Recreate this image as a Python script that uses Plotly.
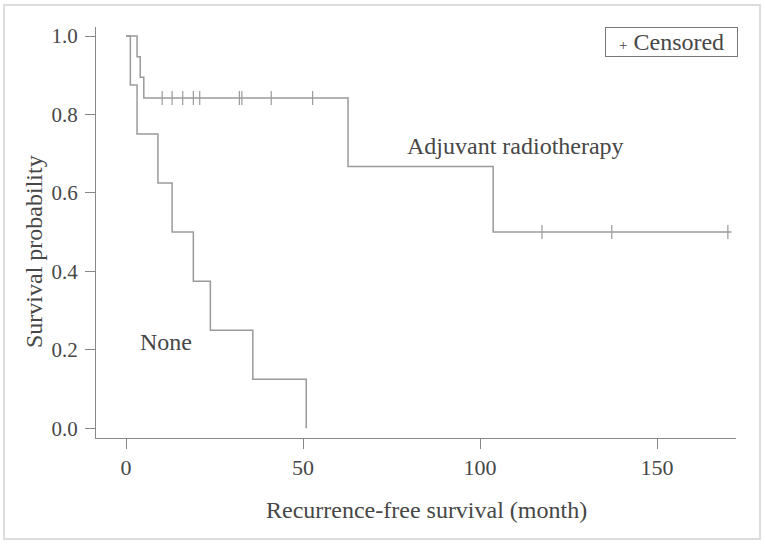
import plotly.graph_objects as go

# Adjuvant radiotherapy: step curve (event times and survival)
adj_time = [0, 3.1, 4.0, 5.0, 62.7, 103.7, 171]
adj_surv = [1.0, 0.947, 0.895, 0.842, 0.667, 0.500, 0.500]
adj_cens_time = [10.2, 13.0, 16.0, 19.0, 20.8, 32.0, 32.7, 41.0, 52.7, 117.5, 137.2, 170.0]
adj_cens_surv = [0.842] * 9 + [0.500] * 3

# None group
none_time = [0, 1.2, 3.1, 9.0, 13.0, 19.0, 23.8, 35.8, 50.9]
none_surv = [1.0, 0.875, 0.75, 0.625, 0.5, 0.375, 0.25, 0.125, 0.0]

x_ticks = [0, 50, 100, 150]
y_ticks = [0.0, 0.2, 0.4, 0.6, 0.8, 1.0]

LINE = "#9a9a9a"
TXT = "#474747"
FONT = "Liberation Serif"

L, R, T, B = 96, 29, 27, 106
PW, PH = 765 - L - R, 544 - T - B


def px(xp):
    return (xp - L) / PW


def py(yp):
    return (544 - B - yp) / PH


fig = go.Figure()
fig.add_trace(go.Scatter(x=adj_time, y=adj_surv, mode="lines", line=dict(shape="hv", color=LINE, width=1.5),
                         showlegend=False, hoverinfo="skip"))
fig.add_trace(go.Scatter(x=none_time, y=none_surv, mode="lines", line=dict(shape="hv", color=LINE, width=1.5),
                         showlegend=False, hoverinfo="skip"))
fig.add_trace(go.Scatter(x=adj_cens_time, y=adj_cens_surv, mode="markers", name="Censored",
                         marker=dict(symbol="line-ns", size=10, line=dict(color=LINE, width=1.2)),
                         showlegend=False))

fig.add_annotation(x=110, y=0.72, text="Adjuvant radiotherapy", showarrow=False,
                   font=dict(family=FONT, size=24, color=TXT))
fig.add_annotation(x=11.2, y=0.22, text="None", showarrow=False,
                   font=dict(family=FONT, size=24, color=TXT))

# legend box
fig.add_annotation(xref="paper", yref="paper", x=px(738), y=py(27), xanchor="right", yanchor="top",
                   text="&nbsp;&nbsp;<span style='font-size:15px'>+</span>&nbsp;Censored&nbsp;&nbsp;",
                   showarrow=False,
                   font=dict(family=FONT, size=24, color=TXT), bordercolor="#777", borderwidth=1,
                   borderpad=1, bgcolor="white")

# axis titles
fig.add_annotation(xref="paper", yref="paper", x=px(426), y=py(510), xanchor="center", yanchor="middle",
                   text="Recurrence-free survival (month)",
                   showarrow=False, font=dict(family=FONT, size=24, color=TXT))
fig.add_annotation(xref="paper", yref="paper", x=px(34), y=py(252), xanchor="center", yanchor="middle",
                   text="Survival probability",
                   textangle=-90, showarrow=False, font=dict(family=FONT, size=24, color=TXT))

# outer light border
fig.add_shape(type="rect", xref="paper", yref="paper",
              x0=px(4), x1=px(760), y0=py(539), y1=py(5),
              line=dict(color="#dddddd", width=2), fillcolor="rgba(0,0,0,0)")

fig.update_layout(
    width=765, height=544,
    margin=dict(l=L, r=R, t=T, b=B),
    paper_bgcolor="white", plot_bgcolor="white",
    font=dict(family=FONT, color=TXT, size=21),
    showlegend=False,
    xaxis=dict(range=[-8.5, 172.3], tickvals=x_ticks, ticktext=[str(v) for v in x_ticks],
               showgrid=False, zeroline=False, showline=True, linecolor="#888", linewidth=1,
               ticks="outside", ticklen=10, tickcolor="#888", tickfont=dict(size=22),
               ticklabelstandoff=0),
    yaxis=dict(range=[-0.025, 1.023], tickvals=y_ticks, ticktext=["%.1f" % v for v in y_ticks],
               showgrid=False, zeroline=False, showline=True, linecolor="#888", linewidth=1,
               ticks="outside", ticklen=10, tickcolor="#888", tickfont=dict(size=21),
               ticklabelstandoff=3),
)

fig.write_html("out.html", config={"displayModeBar": False},
               post_script="document.body.style.margin='0';")
